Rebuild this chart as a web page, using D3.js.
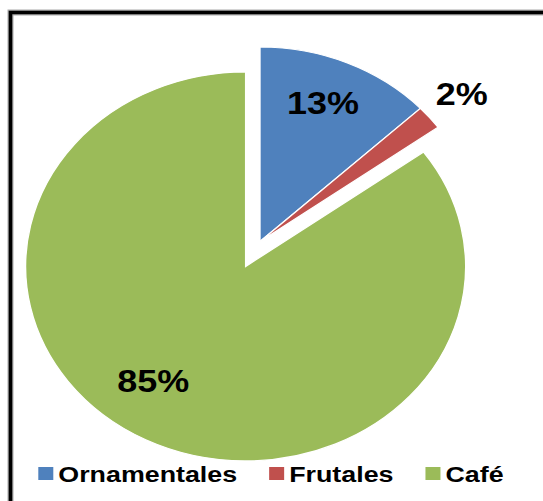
<!DOCTYPE html>
<html>
<head>
<meta charset="utf-8">
<script src="https://cdn.jsdelivr.net/npm/d3@7"></script>
<style>
  html, body { margin: 0; padding: 0; background: #fff; }
  svg { display: block; }
</style>
</head>
<body>
<script>
// Chart data
const categories = ["Ornamentales", "Frutales", "Café"];
const values = [13, 2, 85];
const colors = ["#4F81BD", "#C0504D", "#9BBB59"];
const labels = values.map(v => v + "%");

const W = 543, H = 501;
const svg = d3.select("body").append("svg").attr("width", W).attr("height", H);

// Frame: thick black line along the top and left edges
svg.append("path")
  .attr("d", `M10.5,${H + 10} V12.5 H${W + 10}`)
  .attr("fill", "none").attr("stroke", "#aaa").attr("stroke-width", 6);
svg.append("path")
  .attr("d", `M10.5,${H + 10} V12.5 H${W + 10}`)
  .attr("fill", "none").attr("stroke", "#000").attr("stroke-width", 3.6);

// Pie layout (the plot is drawn slightly wider than tall)
const cx = 260, cy = 241.5, r = 194.5, sx = 220 / 194.5;
const explode = [0, 0, 28];

const arcs = d3.pie().sort(null).value(d => d)(values);
const arc = d3.arc().innerRadius(0).outerRadius(r);

const g = svg.append("g").attr("transform", `translate(${cx},${cy}) scale(${sx},1)`);

function offsetOf(a, i) {
  const mid = (a.startAngle + a.endAngle) / 2;
  return [Math.sin(mid) * explode[i], -Math.cos(mid) * explode[i]];
}

g.selectAll("path.slice")
  .data(arcs)
  .join("path")
  .attr("class", "slice")
  .attr("transform", (a, i) => { const o = offsetOf(a, i); return `translate(${o[0]},${o[1]})`; })
  .attr("d", arc)
  .attr("fill", (a, i) => colors[i])
  .attr("stroke", "#fff")
  .attr("stroke-width", 1.2)
  .attr("stroke-linejoin", "miter");

// Percentage labels: radius fraction and angular nudge per slice
const labelRadius = [0.77, 1.19, 0.72];
const labelNudge = [-1.6, 0, 8.7];
arcs.forEach((a, i) => {
  const o = offsetOf(a, i);
  const ang = (a.startAngle + a.endAngle) / 2 + labelNudge[i] * Math.PI / 180;
  const lx = cx + sx * (o[0] + Math.sin(ang) * r * labelRadius[i]);
  const ly = cy + o[1] - Math.cos(ang) * r * labelRadius[i];
  svg.append("text")
    .attr("transform", `translate(${lx},${ly}) scale(1.125,1)`)
    .attr("text-anchor", "middle")
    .attr("dy", "0.36em")
    .attr("font-family", "Liberation Sans, Arial, sans-serif")
    .attr("font-weight", "bold")
    .attr("font-size", 32)
    .attr("fill", "#000")
    .text(labels[i]);
});

// Legend along the bottom
const legend = svg.append("g");
let lxPos = 38.3;
const legendBaseline = 482;
const legendScale = 1.22;
categories.forEach((c, i) => {
  legend.append("rect")
    .attr("x", lxPos).attr("y", 467)
    .attr("width", 15).attr("height", 13)
    .attr("fill", colors[i]);
  const tx = lxPos + 20;
  const t = legend.append("text")
    .attr("transform", `translate(${tx},${legendBaseline}) scale(${legendScale},1)`)
    .attr("font-family", "Liberation Sans, Arial, sans-serif")
    .attr("font-weight", "bold")
    .attr("font-size", 22)
    .attr("fill", "#000")
    .text(c);
  const w = t.node().getComputedTextLength() * legendScale;
  lxPos = tx + w + 32;
});
</script>
</body>
</html>
